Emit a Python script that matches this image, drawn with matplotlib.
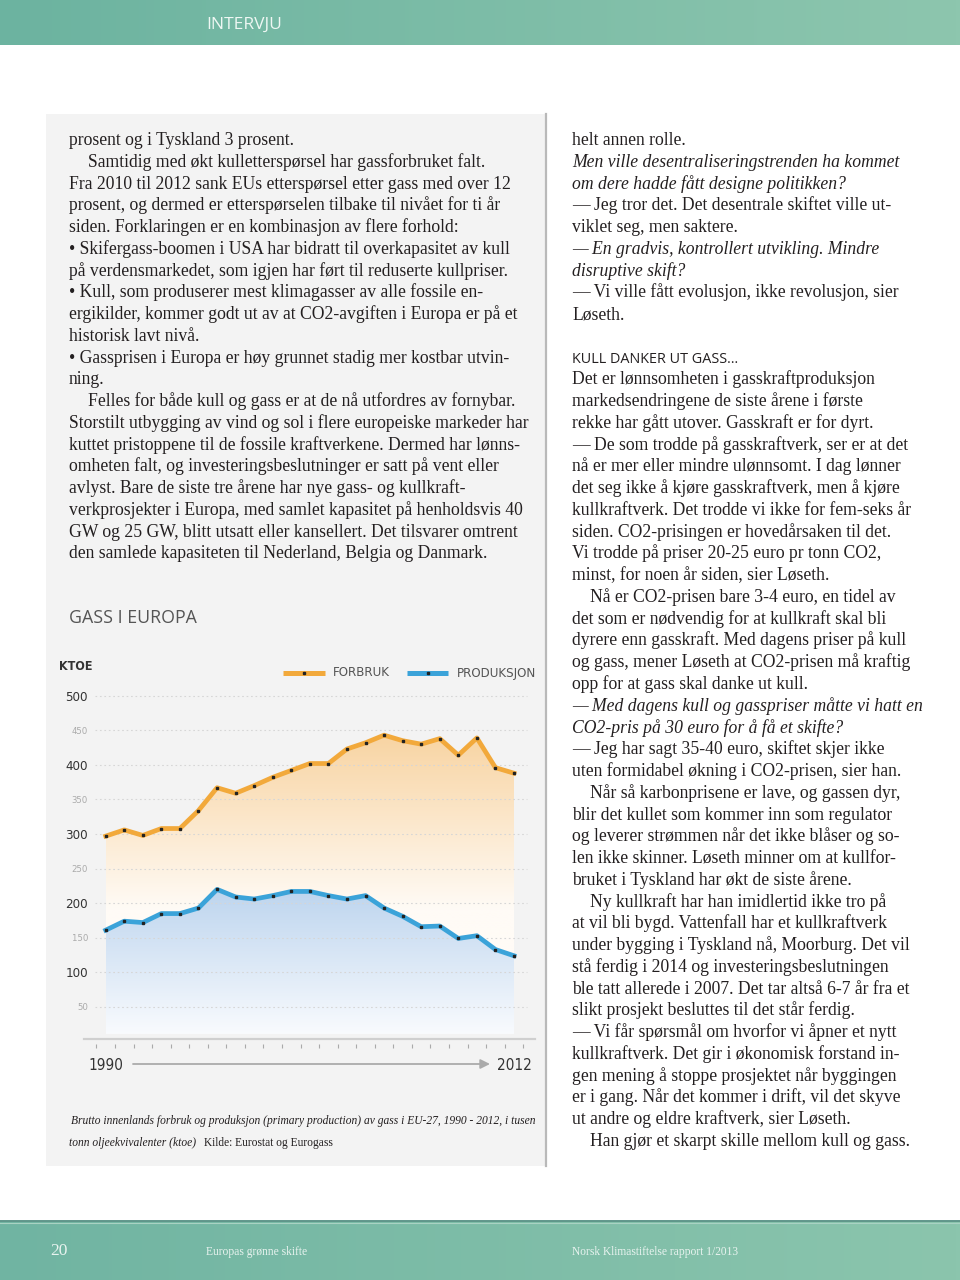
"""Magasinside: Gass i Europa — forbruk og produksjon 1990-2012 (ktoe)."""
import numpy as np
import matplotlib
matplotlib.use("Agg")
import matplotlib.pyplot as plt
import matplotlib.colors as mcolors

plt.rcParams["font.family"] = ["Liberation Serif", "DejaVu Serif"]

# --- data (lest av figuren) ---
years = list(range(1990, 2013))
forbruk = [297, 306, 298, 308, 308, 334, 367, 359, 370, 382, 392, 402, 402,
           423, 432, 443, 435, 430, 438, 414, 439, 396, 388]
produksjon = [161, 174, 172, 185, 185, 193, 220, 209, 206, 211, 217, 217, 211,
              206, 211, 193, 181, 166, 167, 149, 153, 133, 124]
major_ticks = [100, 200, 300, 400, 500]
minor_ticks = [50, 150, 250, 350, 450]
series_names = ["FORBRUK", "PRODUKSJON"]

ORANGE = "#f2a93b"
BLUE = "#3ba3d9"
INK = "#231f20"
SANS_C = dict(family="DejaVu Sans", stretch="condensed")

left_lines = [
    ("prosent og i Tyskland 3 prosent.", 0, False),
    ("Samtidig med økt kulletterspørsel har gassforbruket falt.", 1, False),
    ("Fra 2010 til 2012 sank EUs etterspørsel etter gass med over 12", 0, False),
    ("prosent, og dermed er etterspørselen tilbake til nivået for ti år", 0, False),
    ("siden. Forklaringen er en kombinasjon av flere forhold:", 0, False),
    ("• Skifergass-boomen i USA har bidratt til overkapasitet av kull", 0, False),
    ("på verdensmarkedet, som igjen har ført til reduserte kullpriser.", 0, False),
    ("• Kull, som produserer mest klimagasser av alle fossile en-", 0, False),
    ("ergikilder, kommer godt ut av at CO2-avgiften i Europa er på et", 0, False),
    ("historisk lavt nivå.", 0, False),
    ("• Gassprisen i Europa er høy grunnet stadig mer kostbar utvin-", 0, False),
    ("ning.", 0, False),
    ("Felles for både kull og gass er at de nå utfordres av fornybar.", 1, False),
    ("Storstilt utbygging av vind og sol i flere europeiske markeder har", 0, False),
    ("kuttet pristoppene til de fossile kraftverkene. Dermed har lønns-", 0, False),
    ("omheten falt, og investeringsbeslutninger er satt på vent eller", 0, False),
    ("avlyst. Bare de siste tre årene har nye gass- og kullkraft-", 0, False),
    ("verkprosjekter i Europa, med samlet kapasitet på henholdsvis 40", 0, False),
    ("GW og 25 GW, blitt utsatt eller kansellert. Det tilsvarer omtrent", 0, False),
    ("den samlede kapasiteten til Nederland, Belgia og Danmark.", 0, False),
]

right_lines = [
    ("helt annen rolle.", 0, False),
    ("Men ville desentraliseringstrenden ha kommet", 0, True),
    ("om dere hadde fått designe politikken?", 0, True),
    ("— Jeg tror det. Det desentrale skiftet ville ut-", 0, False),
    ("viklet seg, men saktere.", 0, False),
    ("— En gradvis, kontrollert utvikling. Mindre", 0, True),
    ("disruptive skift?", 0, True),
    ("— Vi ville fått evolusjon, ikke revolusjon, sier", 0, False),
    ("Løseth.", 0, False),
    ("", 0, False),
    ("KULL DANKER UT GASS…", 0, "head"),
    ("Det er lønnsomheten i gasskraftproduksjon", 0, False),
    ("markedsendringene de siste årene i første", 0, False),
    ("rekke har gått utover. Gasskraft er for dyrt.", 0, False),
    ("— De som trodde på gasskraftverk, ser er at det", 0, False),
    ("nå er mer eller mindre ulønnsomt. I dag lønner", 0, False),
    ("det seg ikke å kjøre gasskraftverk, men å kjøre", 0, False),
    ("kullkraftverk. Det trodde vi ikke for fem-seks år", 0, False),
    ("siden. CO2-prisingen er hovedårsaken til det.", 0, False),
    ("Vi trodde på priser 20-25 euro pr tonn CO2,", 0, False),
    ("minst, for noen år siden, sier Løseth.", 0, False),
    ("Nå er CO2-prisen bare 3-4 euro, en tidel av", 1, False),
    ("det som er nødvendig for at kullkraft skal bli", 0, False),
    ("dyrere enn gasskraft. Med dagens priser på kull", 0, False),
    ("og gass, mener Løseth at CO2-prisen må kraftig", 0, False),
    ("opp for at gass skal danke ut kull.", 0, False),
    ("— Med dagens kull og gasspriser måtte vi hatt en", 0, True),
    ("CO2-pris på 30 euro for å få et skifte?", 0, True),
    ("— Jeg har sagt 35-40 euro, skiftet skjer ikke", 0, False),
    ("uten formidabel økning i CO2-prisen, sier han.", 0, False),
    ("Når så karbonprisene er lave, og gassen dyr,", 1, False),
    ("blir det kullet som kommer inn som regulator", 0, False),
    ("og leverer strømmen når det ikke blåser og so-", 0, False),
    ("len ikke skinner. Løseth minner om at kullfor-", 0, False),
    ("bruket i Tyskland har økt de siste årene.", 0, False),
    ("Ny kullkraft har han imidlertid ikke tro på", 1, False),
    ("at vil bli bygd. Vattenfall har et kullkraftverk", 0, False),
    ("under bygging i Tyskland nå, Moorburg. Det vil", 0, False),
    ("stå ferdig i 2014 og investeringsbeslutningen", 0, False),
    ("ble tatt allerede i 2007. Det tar altså 6-7 år fra et", 0, False),
    ("slikt prosjekt besluttes til det står ferdig.", 0, False),
    ("— Vi får spørsmål om hvorfor vi åpner et nytt", 0, False),
    ("kullkraftverk. Det gir i økonomisk forstand in-", 0, False),
    ("gen mening å stoppe prosjektet når byggingen", 0, False),
    ("er i gang. Når det kommer i drift, vil det skyve", 0, False),
    ("ut andre og eldre kraftverk, sier Løseth.", 0, False),
    ("Han gjør et skarpt skille mellom kull og gass.", 1, False),
]

caption1 = ("Brutto innenlands forbruk og produksjon (primary production) av gass "
            "i EU-27, 1990 - 2012, i tusen")
caption2_it = "tonn oljeekvivalenter (ktoe)"
caption2_src = "Kilde: Eurostat og Eurogass"


def hgrad(c0, c1, n=256):
    a, b = np.array(mcolors.to_rgb(c0)), np.array(mcolors.to_rgb(c1))
    t = np.linspace(0, 1, n)[None, :, None]
    return a + (b - a) * t


fig = plt.figure(figsize=(9.6, 12.8), dpi=100)
fig.patch.set_facecolor("white")

# bakgrunn i piksler
bg = fig.add_axes([0, 0, 1, 1])
bg.axis("off")
bg.imshow(hgrad("#6cb3a0", "#8dc6ae"), extent=[0, 960, 45, 0], aspect="auto")
bg.imshow(hgrad("#70b4a2", "#8bc5ad"), extent=[0, 960, 1280, 1221], aspect="auto")
bg.plot([0, 960], [1220.5, 1220.5], color="#5f968a", lw=1.4)
bg.plot([0, 960], [1222.5, 1222.5], color="#a9d2c3", lw=0.8)
bg.add_patch(plt.Rectangle((46, 114), 500, 1052, facecolor="#f3f3f3", edgecolor="none"))
bg.plot([546, 546], [114, 1166], color="#b9b9b9", lw=1.6)
bg.set_xlim(0, 960)
bg.set_ylim(1280, 0)

bg.text(206, 25, "INTERVJU", color="#eef7f3", fontsize=12.5, family="Open Sans",
        va="center", ha="left")
bg.text(50, 1251, "20", color="#e8f3ef", fontsize=12.5, va="center")
bg.text(206, 1252, "Europas grønne skifte", color="#e8f3ef", fontsize=8.3, va="center")
bg.text(572, 1252, "Norsk Klimastiftelse rapport 1/2013", color="#e8f3ef",
        fontsize=8.3, va="center")

# brødtekst
LH = 21.76
for col_x, lines in ((69, left_lines), (572, right_lines)):
    for i, (txt, ind, sty) in enumerate(lines):
        if not txt:
            continue
        y = 145 + LH * i
        if sty == "head":
            bg.text(col_x, y, txt, family="Open Sans", fontsize=10.4, color=INK,
                    va="baseline")
        else:
            bg.text(col_x + 18.5 * ind, y, txt, fontsize=12.7, color=INK,
                    style="italic" if sty else "normal", va="baseline")

# diagramtittel og etiketter
bg.text(69, 618, "GASS I EUROPA", family="Open Sans", fontsize=12.8, color="#555555",
        va="center")
bg.text(59, 666, "KTOE", fontsize=9, color="#333333", va="center",
        fontweight="bold", **SANS_C)
for (x0, x1, tx), c, name in zip(((283, 325, 333), (407, 448, 457)), (ORANGE, BLUE),
                                 series_names):
    bg.plot([x0, x1], [673, 673], color=c, lw=3.6, solid_capstyle="butt")
    bg.plot([(x0 + x1) / 2], [673], marker="s", ms=1.6, color="#222222")
    bg.text(tx, 673, name, fontsize=9.5, color="#555555", va="center", **SANS_C)

bg.text(71, 1121, caption1, fontsize=8.3, style="italic", color=INK, va="center")
bg.text(69, 1143, caption2_it, fontsize=8.3, style="italic", color=INK, va="center")
bg.text(204, 1143, caption2_src, fontsize=8.3, color=INK, va="center")
bg.annotate("", xy=(490, 1064), xytext=(133, 1064),
            arrowprops=dict(arrowstyle="-|>", color="#aaaaaa", lw=1.3,
                            mutation_scale=14, shrinkA=0, shrinkB=0))
bg.plot([84, 535], [1039, 1039], color="#cfcfcf", lw=1.6)

# diagramakse
px_per = 0.6915
y0_px = 1041.5
ax_l, ax_r, ax_t, ax_b = 92, 535, 640, 1090
ax = fig.add_axes([ax_l / 960, 1 - ax_b / 1280, (ax_r - ax_l) / 960, (ax_b - ax_t) / 1280])
ax.set_facecolor("none")
for s in ax.spines.values():
    s.set_visible(False)
ax.set_xticks([])
ticks = sorted(major_ticks + minor_ticks)
ax.set_yticks(ticks, [str(t) for t in ticks])
ax.tick_params(axis="y", length=0, pad=2.9)
for lab, t in zip(ax.get_yticklabels(), ticks):
    lab.set_fontfamily("DejaVu Sans")
    lab.set_fontstretch("condensed")
    if t in major_ticks:
        lab.set_fontsize(9.5)
        lab.set_color("#333333")
    else:
        lab.set_fontsize(6.8)
        lab.set_color("#aaaaaa")

ax.hlines(ticks, 1989.42, 2012.7, colors="#d6d6d6", lw=0.8, linestyles=(0, (1.5, 2.5)),
          zorder=3)


def gradient_fill(vals, base, v0, c0, v1, c1, z):
    poly = ax.fill_between(years, vals, base, facecolor="none", edgecolor="none")
    top = max(vals) + 5
    yy = np.linspace(base, top, 300)
    f = np.clip((yy - v0) / (v1 - v0), 0, 1)[:, None, None]
    a, b = np.array(mcolors.to_rgb(c0)), np.array(mcolors.to_rgb(c1))
    img = a + (b - a) * f
    im = ax.imshow(img, extent=[years[0], years[-1], base, top], origin="lower",
                   aspect="auto", zorder=z)
    im.set_clip_path(poly.get_paths()[0], transform=ax.transData)


gradient_fill(forbruk, 11, 190, "#fffbf6", 450, "#f8d3a0", 1)
gradient_fill(produksjon, 11, 10, "#f9fbfe", 225, "#bcd4ee", 2)

ax.plot(years, forbruk, color=ORANGE, lw=3.4, marker="s", ms=1.6,
        mfc="#222222", mec="#222222", zorder=5)
ax.plot(years, produksjon, color=BLUE, lw=3.4, marker="s", ms=1.6,
        mfc="#222222", mec="#222222", zorder=5)

# årsmerker under x-aksen
tick_x = [y - 0.5 for y in years] + [years[-1] + 0.5]
ax.vlines(tick_x, (y0_px - 1044) / px_per, (y0_px - 1048) / px_per,
          colors="#aaaaaa", lw=0.8)
lab_y = (y0_px - 1065) / px_per
ax.text(years[0], lab_y, str(years[0]), ha="center", va="center", fontsize=11,
        color="#333333", **SANS_C)
ax.text(years[-1], lab_y, str(years[-1]), ha="center", va="center", fontsize=11,
        color="#333333", **SANS_C)
ax.set_xlim(1990 - (105.7 - ax_l) / 18.56, 2012 + (ax_r - 514) / 18.56)
ax.set_ylim((y0_px - ax_b) / px_per, (y0_px - ax_t) / px_per)

fig.savefig("out.png", dpi=100)
